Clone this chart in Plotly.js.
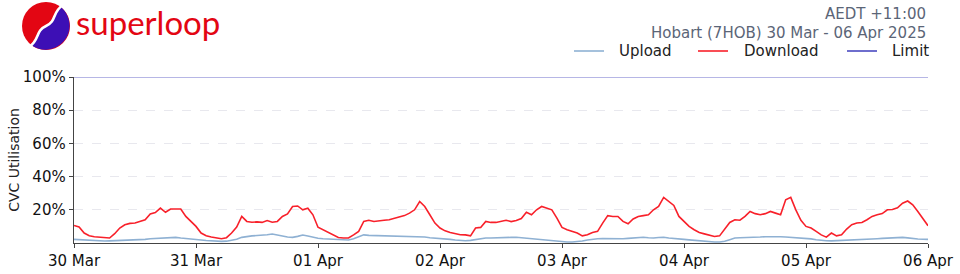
<!DOCTYPE html>
<html>
<head>
<meta charset="utf-8">
<script src="https://cdn.plot.ly/plotly-3.0.1.min.js"></script>
<style>html,body{margin:0;padding:0;background:#fff;}#chart{width:960px;height:274px;}</style>
</head>
<body>
<div id="chart"></div>
<script>
// ---- Data (hourly samples, 30 Mar 00:00 to 06 Apr 00:00, AEDT) ----
const downloadPct = [
  10.6, 9.6, 6.0, 4.4, 3.8, 3.6, 3.2, 3.0, 5.6, 9.0, 11.0, 11.8, 12.0, 13.0, 14.0, 17.5, 18.3, 21.0, 18.5, 20.5, 20.3, 20.5, 16.0, 13.0,
  10.0, 6.0, 4.4, 3.6, 3.0, 2.6, 3.2, 6.0, 9.6, 16.0, 13.0, 12.5, 12.7, 12.4, 13.5, 12.5, 13.0, 16.0, 17.5, 22.0, 22.3, 20.0, 21.0, 17.0,
  9.5, 8.0, 6.3, 4.9, 3.3, 3.0, 3.0, 4.9, 7.0, 13.0, 13.7, 13.0, 13.5, 13.7, 14.0, 14.7, 15.5, 16.5, 18.0, 20.0, 25.0, 22.0, 17.0, 12.0,
  9.0, 7.3, 6.3, 5.5, 5.0, 4.9, 4.3, 9.0, 9.4, 13.0, 12.4, 12.4, 12.9, 13.7, 12.9, 13.5, 14.7, 18.5, 17.0, 20.0, 22.0, 21.0, 20.0, 15.0,
  9.4, 8.0, 7.0, 6.0, 4.3, 5.0, 6.3, 7.0, 12.0, 16.5, 16.0, 16.0, 13.0, 11.6, 14.5, 16.0, 16.5, 17.0, 20.0, 22.0, 27.5, 25.0, 22.6, 16.0,
  13.0, 10.0, 8.0, 6.3, 5.5, 4.9, 3.9, 4.3, 8.0, 12.4, 14.0, 13.7, 16.0, 19.0, 17.7, 17.0, 17.7, 19.0, 18.0, 17.0, 26.0, 27.5, 20.0, 13.7,
  10.0, 9.0, 7.0, 4.9, 3.5, 6.0, 4.3, 4.9, 8.4, 11.0, 12.0, 12.4, 14.0, 16.0, 17.0, 17.7, 20.0, 20.2, 21.2, 24.0, 25.3, 23.0, 19.0, 15.0,
  10.4
];
const uploadPct = [
  2.2, 2.0, 1.8, 1.6, 1.3, 1.2, 1.2, 1.3, 1.4, 1.5, 1.6, 1.7, 1.8, 2.0, 2.2, 2.6, 2.8, 2.8, 3.0, 3.1, 3.4, 3.0, 2.6, 2.4,
  2.2, 1.8, 1.5, 1.2, 1.0, 1.0, 1.1, 1.6, 2.2, 3.4, 4.0, 4.3, 4.5, 4.6, 5.0, 5.4, 5.0, 4.2, 3.6, 3.4, 4.0, 4.8, 4.2, 3.4,
  2.9, 2.6, 2.4, 2.2, 2.0, 1.9, 1.8, 2.5, 3.8, 4.9, 4.6, 4.5, 4.4, 4.5, 4.4, 4.3, 4.2, 4.0, 3.8, 3.9, 4.0, 3.6, 3.2, 3.0,
  2.9, 2.6, 2.2, 1.8, 1.5, 1.4, 1.6, 2.2, 2.8, 3.0, 3.0, 3.2, 3.4, 3.5, 3.4, 3.5, 3.2, 2.8, 2.4, 2.2, 2.0, 1.6, 1.4, 1.0,
  0.8, 0.6, 0.6, 0.8, 1.2, 1.8, 2.4, 2.6, 2.7, 2.6, 2.7, 2.6, 2.6, 2.8, 3.0, 3.3, 3.5, 3.2, 3.0, 3.3, 3.5, 3.0, 2.6, 2.4,
  2.2, 1.9, 1.6, 1.3, 1.0, 0.8, 0.6, 0.6, 1.0, 2.0, 3.0, 3.2, 3.2, 3.3, 3.4, 3.6, 3.8, 3.9, 3.9, 3.8, 3.6, 3.4, 3.2, 2.9,
  2.9, 2.5, 2.0, 1.6, 1.4, 1.3, 1.4, 1.6, 1.8, 2.0, 2.2, 2.2, 2.3, 2.4, 2.6, 2.8, 3.0, 3.2, 3.3, 3.4, 3.1, 2.6, 2.4, 2.3,
  2.2
];
const limitPct = [100, 100];
const seriesNames = ['Upload', 'Download', 'Limit'];
const seriesColors = ['#8fb1d3', '#f8202a', '#4a4ac0'];
const tickDates = ['2025-03-30', '2025-03-31', '2025-04-01', '2025-04-02', '2025-04-03', '2025-04-04', '2025-04-05', '2025-04-06'];
const tickLabels = ['30 Mar', '31 Mar', '01 Apr', '02 Apr', '03 Apr', '04 Apr', '05 Apr', '06 Apr'];
const yTickVals = [20, 40, 60, 80, 100];
const yTickLabels = ['20%', '40%', '60%', '80%', '100%'];
const headerLine1 = 'AEDT +11:00';
const headerLine2 = 'Hobart (7HOB) 30 Mar - 06 Apr 2025';
const brandName = 'superloop';

// hourly timestamps
function pad(n){return (n<10?'0':'')+n;}
const t0 = new Date(Date.UTC(2025,2,30,0,0,0));
const times = downloadPct.map((_, i) => {
  const d = new Date(t0.getTime() + i*3600000);
  return d.getUTCFullYear()+'-'+pad(d.getUTCMonth()+1)+'-'+pad(d.getUTCDate())+' '+pad(d.getUTCHours())+':00';
});

// plot geometry helpers (pixel -> paper)
const L = 74, R = 32, T = 77, B = 31, W = 960, H = 274;
const PW = W - L - R, PH = H - T - B;
const px = v => (v - L) / PW;
const py = v => (H - B - v) / PH;

const logoSvg = '<svg xmlns="http://www.w3.org/2000/svg" width="72" height="56" viewBox="0 0 72 56">' +
  '<circle cx="46" cy="26" r="24" fill="#e30613"/>' +
  '<path d="M61.4 7.6 C52 13 56 21 46 26 C36 31 40 39 30.6 44.4 A24 24 0 0 0 61.4 7.6 Z" fill="#3d0fb5"/>' +
  '<path d="M63 5 C52 12 57 21 46 26 C35 31 40 40 29 47" fill="none" stroke="#fff" stroke-width="2.6"/>' +
  '<rect x="0" y="0" width="72" height="1" fill="#fff"/>' +
  '</svg>';

const traces = [
  {x: times, y: uploadPct, type: 'scatter', mode: 'lines', name: seriesNames[0],
   line: {color: seriesColors[0], width: 1.6}},
  {x: times, y: downloadPct, type: 'scatter', mode: 'lines', name: seriesNames[1],
   line: {color: seriesColors[1], width: 1.6}},
  {x: [tickDates[0], tickDates[tickDates.length-1]], y: limitPct, type: 'scatter', mode: 'lines', name: seriesNames[2],
   line: {color: '#6e6ecc', width: 1.2}}
];

// manual legend (line samples + labels)
const legendLineX = [[574, 604], [698, 728], [847, 877]];
const legendTextX = [617, 742, 890];
const legendY = 51;
const shapes = legendLineX.map((xs, i) => ({
  type: 'line', xref: 'paper', yref: 'paper', x0: px(xs[0]), x1: px(xs[1]), y0: py(legendY), y1: py(legendY),
  line: {color: seriesColors[i], width: 1.6}
}));
const legendAnn = seriesNames.map((n, i) => ({
  text: n, xref: 'paper', yref: 'paper', x: px(legendTextX[i]), y: py(legendY),
  xanchor: 'left', yanchor: 'middle', showarrow: false, font: {size: 15, color: '#222'}
}));

const layout = {
  width: W, height: H,
  margin: {l: L, r: R, t: T, b: B},
  paper_bgcolor: '#fff', plot_bgcolor: '#fff',
  font: {family: 'DejaVu Sans, sans-serif', size: 15, color: '#111'},
  showlegend: false,
  xaxis: {type: 'date', range: [tickDates[0], tickDates[tickDates.length-1]],
          tickmode: 'array', tickvals: tickDates, ticktext: tickLabels,
          showgrid: false, zeroline: false, showline: true, linecolor: '#444', linewidth: 1.3,
          ticks: 'outside', ticklen: 4, tickcolor: '#444', tickfont: {size: 15, color: '#111'}},
  yaxis: {range: [0, 100], tickmode: 'array', tickvals: yTickVals, ticktext: yTickLabels,
          showgrid: true, gridcolor: '#e8e8ee', griddash: 'dash', gridwidth: 1,
          zeroline: false, showline: true, linecolor: '#444', linewidth: 1.3,
          ticks: 'outside', ticklen: 4, tickcolor: '#444', tickfont: {size: 15, color: '#111'},
          title: {text: 'CVC Utilisation', font: {size: 14, color: '#222'}, standoff: 0}},
  shapes: shapes,
  images: [{source: 'data:image/svg+xml;utf8,' + encodeURIComponent(logoSvg),
            xref: 'paper', yref: 'paper', x: px(0), y: py(0),
            sizex: 72/PW, sizey: 56/PH, xanchor: 'left', yanchor: 'top', sizing: 'stretch', layer: 'above'}],
  annotations: [
    {text: brandName, xref: 'paper', yref: 'paper', x: px(74), y: py(22),
     xanchor: 'left', yanchor: 'middle', showarrow: false,
     font: {family: 'Lato, Noto Sans, sans-serif', size: 33, color: '#e30613'}},
    {text: headerLine1, xref: 'paper', yref: 'paper', x: 1, y: py(14),
     xanchor: 'right', yanchor: 'middle', showarrow: false,
     font: {size: 15, color: '#5b6577'}},
    {text: headerLine2, xref: 'paper', yref: 'paper', x: 1, y: py(33),
     xanchor: 'right', yanchor: 'middle', showarrow: false,
     font: {size: 15, color: '#5b6577'}}
  ].concat(legendAnn)
};

Plotly.newPlot('chart', traces, layout, {displayModeBar: false, staticPlot: true});
</script>
</body>
</html>
